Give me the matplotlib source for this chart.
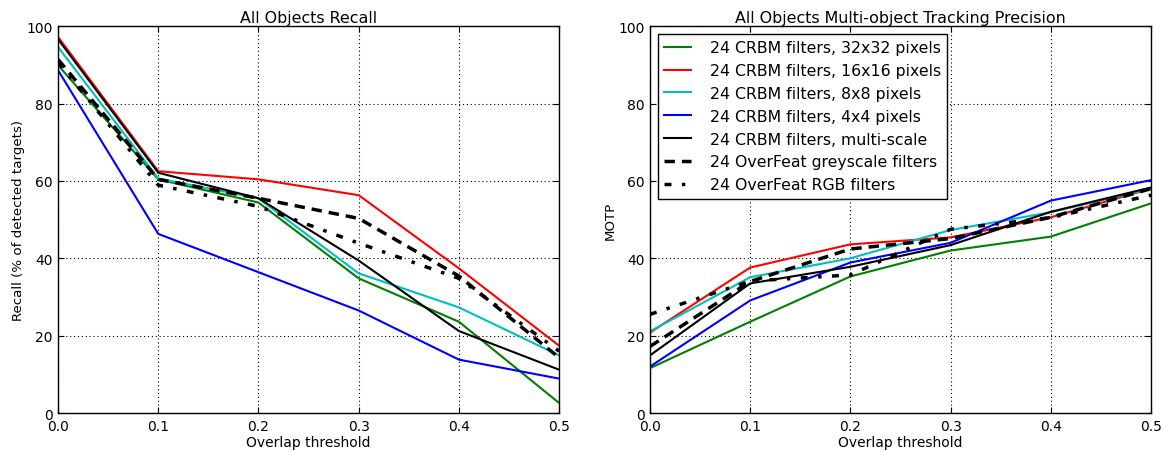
import matplotlib
matplotlib.use("Agg")
import matplotlib.pyplot as plt

thresholds = [0.0, 0.1, 0.2, 0.3, 0.4, 0.5]

labels = [
    "24 CRBM filters, 32x32 pixels",
    "24 CRBM filters, 16x16 pixels",
    "24 CRBM filters, 8x8 pixels",
    "24 CRBM filters, 4x4 pixels",
    "24 CRBM filters, multi-scale",
    "24 OverFeat greyscale filters",
    "24 OverFeat RGB filters",
]

# recall (% of detected targets)
recall_32 = [89.9, 60.4, 54.4, 34.8, 23.6, 2.6]
recall_16 = [97.2, 62.5, 60.4, 56.3, 37.4, 17.4]
recall_8 = [94.6, 60.6, 55.5, 36.1, 27.3, 14.9]
recall_4 = [88.6, 46.3, 36.4, 26.5, 13.8, 8.9]
recall_ms = [96.6, 62.1, 55.5, 39.4, 21.2, 11.2]
recall_grey = [91.4, 60.4, 55.5, 50.3, 35.4, 14.3]
recall_rgb = [90.6, 58.9, 53.4, 43.9, 34.8, 16.0]

# MOTP
motp_32 = [11.6, 23.6, 35.3, 42.0, 45.6, 54.2]
motp_16 = [20.8, 37.6, 43.6, 45.4, 50.6, 58.0]
motp_8 = [21.1, 35.1, 40.0, 47.3, 51.9, 58.0]
motp_4 = [12.0, 29.1, 38.9, 44.0, 54.9, 60.2]
motp_ms = [14.9, 33.5, 37.8, 43.4, 52.0, 58.3]
motp_grey = [17.2, 34.0, 42.4, 45.1, 50.6, 58.0]
motp_rgb = [25.5, 34.1, 35.7, 47.5, 50.5, 56.3]

recall = [recall_32, recall_16, recall_8, recall_4, recall_ms, recall_grey, recall_rgb]
motp = [motp_32, motp_16, motp_8, motp_4, motp_ms, motp_grey, motp_rgb]

styles = [
    dict(color=(0, 0.5, 0), linestyle='-', linewidth=1.5),
    dict(color='red', linestyle='-', linewidth=1.5),
    dict(color=(0, 0.75, 0.75), linestyle='-', linewidth=1.5),
    dict(color='blue', linestyle='-', linewidth=1.5),
    dict(color='black', linestyle='-', linewidth=1.5),
    dict(color='black', linestyle=(0, (3, 2)), linewidth=2.5),
    dict(color='black', linestyle=(0, (2, 3, 1, 3)), linewidth=2.5),
]

plt.rcParams['font.family'] = 'DejaVu Sans'
plt.rcParams['xtick.direction'] = 'in'
plt.rcParams['ytick.direction'] = 'in'
plt.rcParams['xtick.top'] = True
plt.rcParams['ytick.right'] = True

fig = plt.figure(figsize=(11.68, 4.52), dpi=100)
ax1 = fig.add_axes([0.0497, 0.084, 0.429, 0.856])
ax2 = fig.add_axes([0.5565, 0.084, 0.429, 0.856])

for ax, data, title, ylabel in [
    (ax1, recall, "All Objects Recall", "Recall (% of detected targets)"),
    (ax2, motp, "All Objects Multi-object Tracking Precision", "MOTP"),
]:
    for vals, lab, st in zip(data, labels, styles):
        ax.plot(thresholds, vals, label=lab, **st)
    ax.set_xlim(0, 0.5)
    ax.set_ylim(0, 100)
    ax.set_xticks(thresholds)
    ax.set_xticklabels(["%.1f" % t for t in thresholds])
    ax.set_yticks([0, 20, 40, 60, 80, 100])
    ax.grid(True, color='black', linestyle=(0, (1, 2.5)), linewidth=0.8)
    ax.tick_params(labelsize=10, length=4, pad=4)
    ax.set_title(title, fontsize=11.4, pad=3)
    ax.set_xlabel("Overlap threshold", fontsize=10, labelpad=2)
    ax.set_ylabel(ylabel, fontsize=9.6, labelpad=1)
    for s in ax.spines.values():
        s.set_linewidth(1.0)

leg = ax2.legend(loc='upper left', fontsize=11.3, handlelength=1.7, handletextpad=1.2,
                 labelspacing=0.5, fancybox=False, edgecolor='black', framealpha=1)
leg.get_frame().set_linewidth(1.0)

fig.savefig("out.png", dpi=100)
